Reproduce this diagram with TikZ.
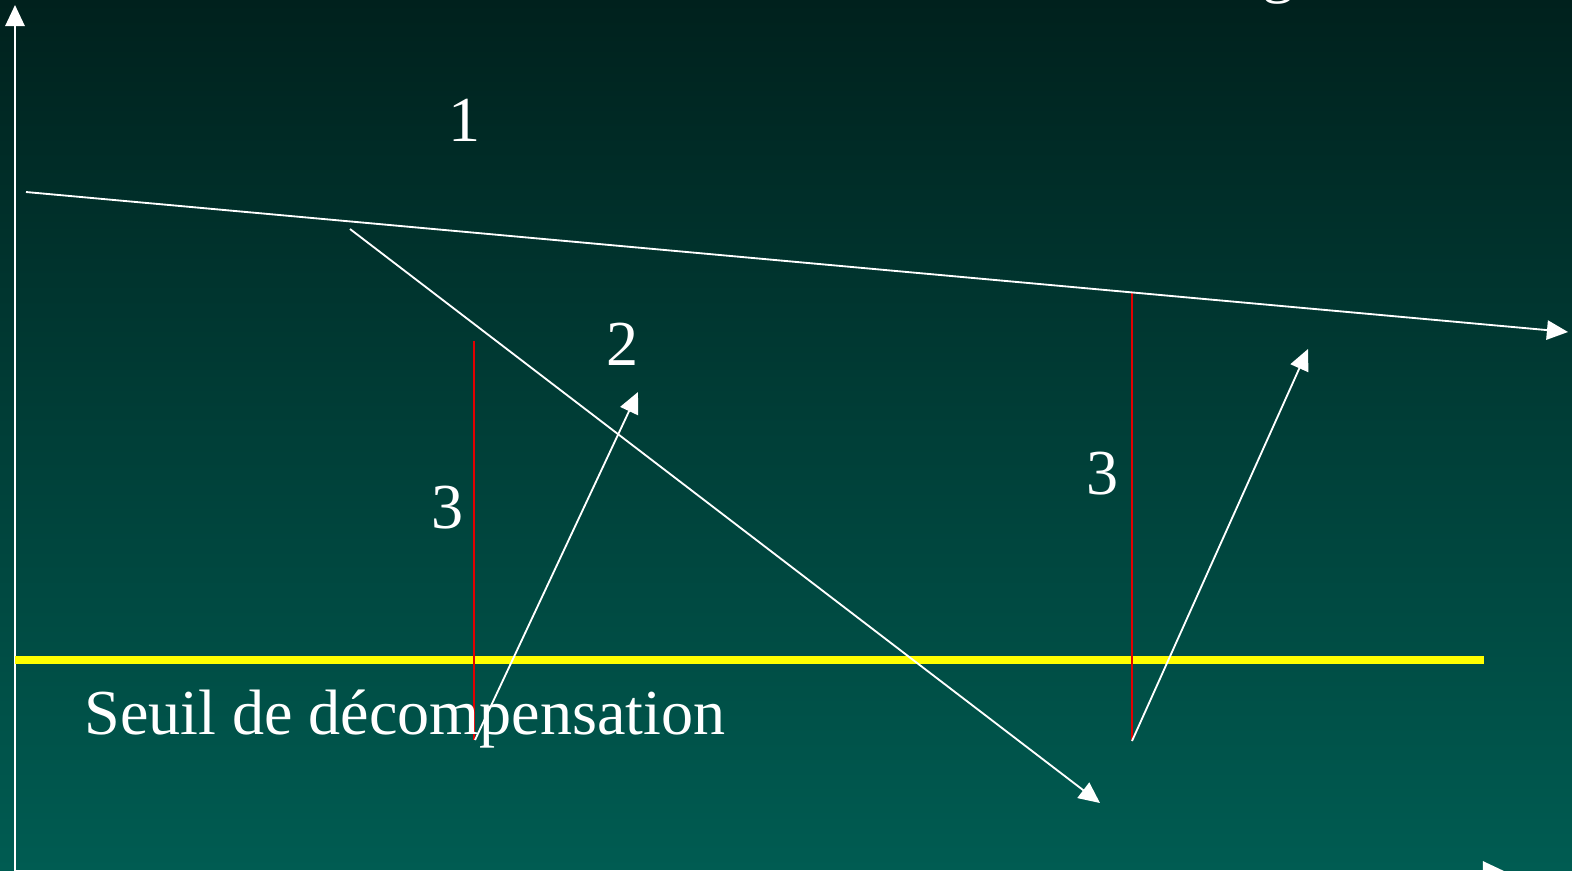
\documentclass[tikz,border=0pt]{standalone}
\usepackage{fontspec}
\setmainfont{Liberation Serif}
\usetikzlibrary{arrows.meta}
\definecolor{bgtop}{RGB}{0,33,29}
\definecolor{bgbot}{RGB}{0,92,82}
\definecolor{sred}{RGB}{225,0,0}
\definecolor{syellow}{RGB}{255,255,0}
\tikzset{
  axis/.style={draw=white, line width=1.1pt, -{Triangle[length=12pt,width=11pt]}},
  arr/.style={draw=white, line width=1.05pt, -{Triangle[length=12pt,width=11pt]}},
  redline/.style={draw=sred, line width=1.2pt},
  seuil/.style={draw=syellow, line width=4.6pt},
  lbl/.style={text=white, font=\fontsize{36.5pt}{40pt}\selectfont, inner sep=0pt},
}
\begin{document}
\begin{tikzpicture}[x=0.02cm, y=-0.02cm]
\useasboundingbox (0,0) rectangle (1572,870);
\clip (0,0) rectangle (1572,870);
\shade[top color=bgtop, bottom color=bgbot] (0,0) rectangle (1572,870);
% cut-off title glyph
\node[lbl, anchor=base] (ttl) at (1279,-10) {g};
% axes
\coordinate (yb) at (15,880);
\coordinate (yt) at (15,5);
\draw[axis] (yb) -- (yt);
\coordinate (xb) at (15,871);
\coordinate (xt) at (1504,871);
\draw[axis] (xb) -- (xt);
% threshold
\coordinate (s1) at (15,660);
\coordinate (s2) at (1484,660);
\draw[seuil] (s1) -- (s2);
% red lines
\coordinate (r1a) at (474,341);
\coordinate (r1b) at (474,740);
\coordinate (r2a) at (1132,292);
\coordinate (r2b) at (1132,741);
\draw[redline] (r1a) -- (r1b);
\draw[redline] (r2a) -- (r2b);
% line 1
\coordinate (l1a) at (26,192);
\coordinate (l1b) at (1568,332);
\draw[arr] (l1a) -- (l1b);
% line 2
\coordinate (l2a) at (350,229);
\coordinate (l2b) at (1100,803);
\draw[arr] (l2a) -- (l2b);
% rising arrows
\coordinate (u1a) at (475,740);
\coordinate (u1b) at (638,392);
\draw[arr] (u1a) -- (u1b);
\coordinate (u2a) at (1132,741);
\coordinate (u2b) at (1308,349);
\draw[arr] (u2a) -- (u2b);
% labels
\node[lbl] (n1) at (465,120) {1};
\node[lbl] (n2) at (623,344) {2};
\node[lbl] (n3a) at (448,508) {3};
\node[lbl] (n3b) at (1103,474) {3};
\node[lbl, anchor=base west] (seuiltxt) at (84,734) {Seuil de décompensation};
\end{tikzpicture}
\end{document}
